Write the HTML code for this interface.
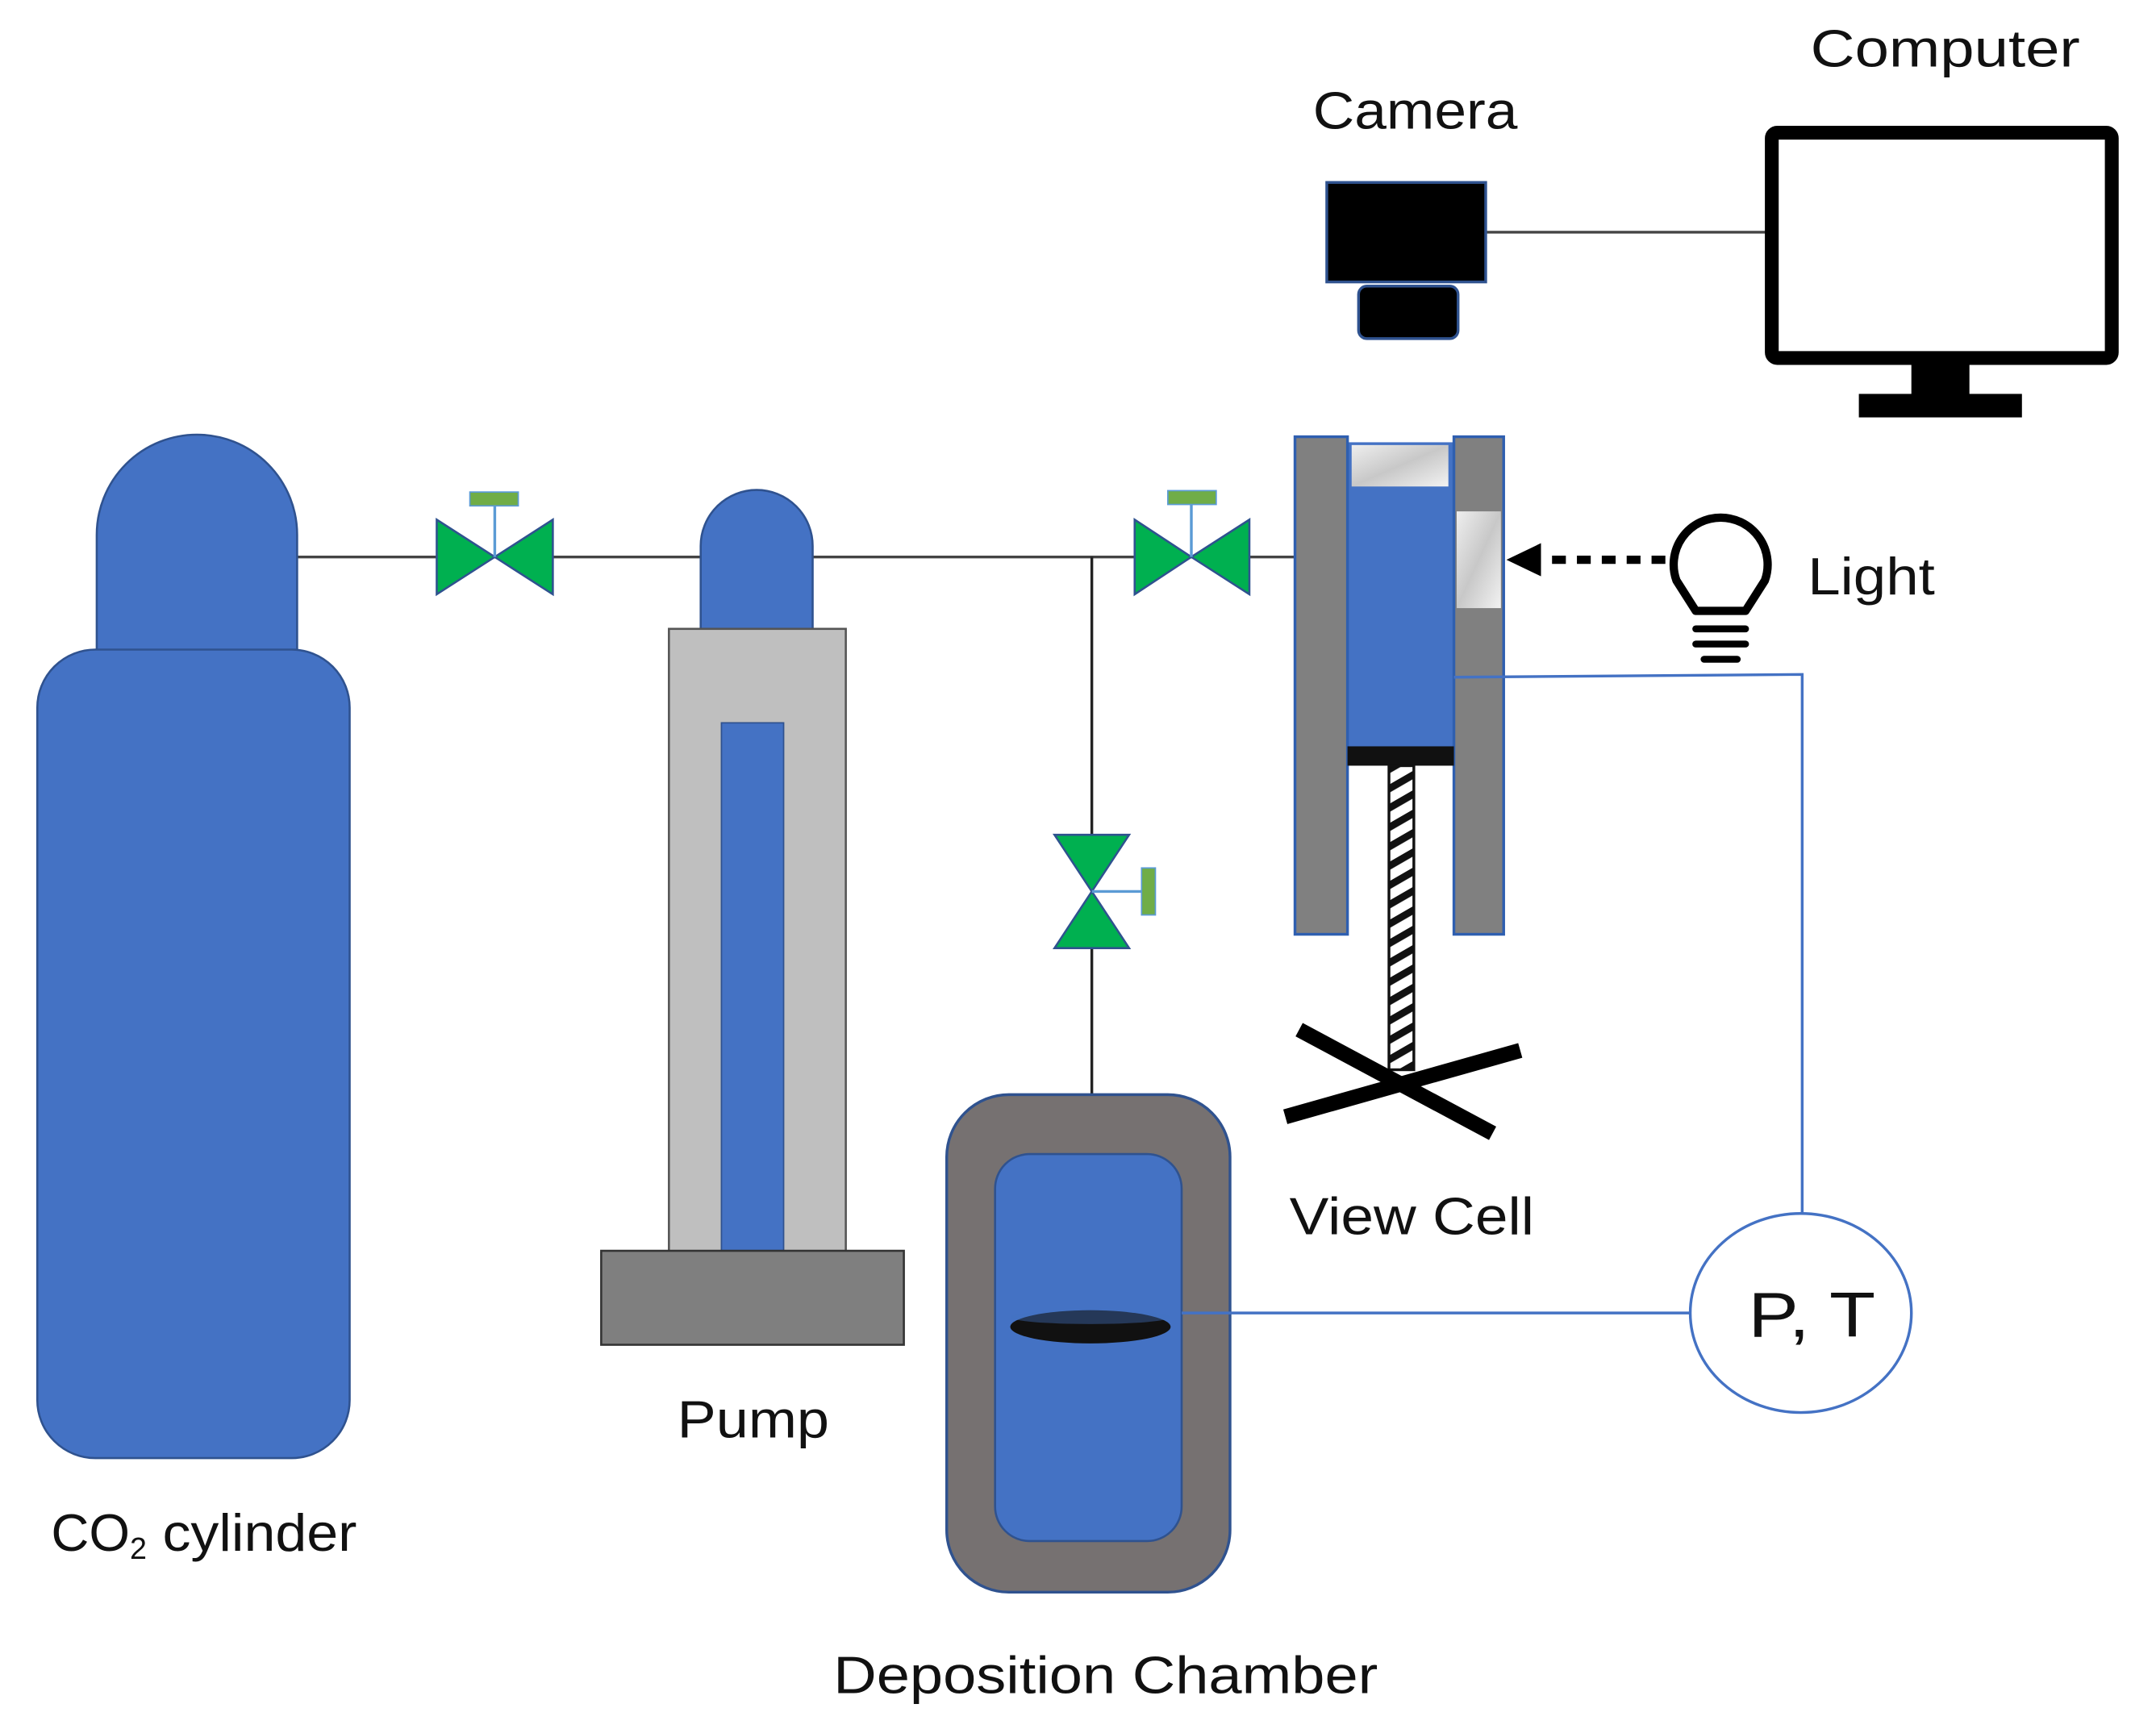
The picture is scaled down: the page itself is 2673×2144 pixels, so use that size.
<!DOCTYPE html>
<html><head><style>html,body{margin:0;padding:0;background:#fff}svg{display:block}text{font-family:"Liberation Sans",sans-serif;fill:#111}</style></head>
<body>
<svg width="2673" height="2144" viewBox="0 0 1560 1251" preserveAspectRatio="none" xmlns="http://www.w3.org/2000/svg">
<defs>
<pattern id="hatch" width="17" height="14" patternUnits="userSpaceOnUse" patternTransform="skewY(-30)">
<rect width="17" height="14" fill="#fff"/><rect width="17" height="6" fill="#111"/></pattern>
<linearGradient id="glass" x1="0" y1="0" x2="1" y2="1"><stop offset="0" stop-color="#eee"/><stop offset="0.5" stop-color="#c8c8c8"/><stop offset="1" stop-color="#f2f2f2"/></linearGradient>
</defs>
<line x1="215" y1="403" x2="940" y2="403" stroke="#444" stroke-width="2"/>
<line x1="790" y1="403" x2="790" y2="792" stroke="#222" stroke-width="2"/>
<line x1="1075" y1="168" x2="1278" y2="168" stroke="#444" stroke-width="2"/>
<path d="M70 478 V387 A72 72 0 0 1 215 387 V478 Z" fill="#4472c4" stroke="#2f528f" stroke-width="1.5"/>
<rect x="27" y="470" width="226" height="585" rx="42" fill="#4472c4" stroke="#2f528f" stroke-width="1.5"/>
<g fill="#00b050" stroke="#2f528f" stroke-width="1.5">
<polygon points="316,376 316,430 358,403"/><polygon points="400,376 400,430 358,403"/></g>
<line x1="358" y1="403" x2="358" y2="366" stroke="#5b9bd5" stroke-width="2"/>
<rect x="340" y="356" width="35" height="10" fill="#70ad47" stroke="#5b9bd5"/>
<path d="M507 455 V395 A40 40 0 0 1 588 395 V455 Z" fill="#4472c4" stroke="#2f528f" stroke-width="1.5"/>
<rect x="484" y="455" width="128" height="452" fill="#bfbfbf" stroke="#555" stroke-width="1.5"/>
<rect x="522" y="523" width="45" height="384" fill="#4472c4" stroke="#2f528f" stroke-width="1"/>
<rect x="435" y="905" width="219" height="68" fill="#7f7f7f" stroke="#333" stroke-width="1.5"/>
<g fill="#00b050" stroke="#2f528f" stroke-width="1.5">
<polygon points="821,376 821,430 862,403"/><polygon points="904,376 904,430 862,403"/></g>
<line x1="862" y1="403" x2="862" y2="364" stroke="#5b9bd5" stroke-width="2"/>
<rect x="845" y="355" width="35" height="10" fill="#70ad47" stroke="#5b9bd5"/>
<g fill="#00b050" stroke="#2f528f" stroke-width="1.5">
<polygon points="763,604 817,604 790,645"/><polygon points="763,686 817,686 790,645"/></g>
<line x1="790" y1="645" x2="826" y2="645" stroke="#5b9bd5" stroke-width="2"/>
<rect x="826" y="628" width="10" height="34" fill="#70ad47" stroke="#5b9bd5"/>
<rect x="685" y="792" width="205" height="360" rx="45" fill="#767171" stroke="#2f528f" stroke-width="2"/>
<rect x="720" y="835" width="135" height="280" rx="25" fill="#4472c4" stroke="#2f528f" stroke-width="1.5"/>
<ellipse cx="789" cy="960" rx="58" ry="12" fill="#111"/>
<ellipse cx="789" cy="953" rx="58" ry="5" fill="#4472c4" opacity="0.4"/>
<line x1="855" y1="950" x2="1224" y2="950" stroke="#4472c4" stroke-width="2"/>
<rect x="975" y="320" width="77" height="230" fill="#4472c4"/>
<rect x="978" y="322" width="70" height="30" fill="url(#glass)"/>
<rect x="937" y="316" width="38" height="360" fill="#808080" stroke="#2f5fb0" stroke-width="2"/>
<rect x="1052" y="316" width="36" height="360" fill="#808080" stroke="#2f5fb0" stroke-width="2"/>
<rect x="1054" y="370" width="32" height="70" fill="url(#glass)"/>
<rect x="975" y="540" width="77" height="14" fill="#111"/>
<rect x="1005" y="554" width="18" height="220" fill="url(#hatch)" stroke="#111" stroke-width="2"/>
<line x1="940" y1="745" x2="1080" y2="820" stroke="#000" stroke-width="11"/>
<line x1="930" y1="808" x2="1100" y2="760" stroke="#000" stroke-width="11"/>
<line x1="1205" y1="405" x2="1110" y2="405" stroke="#000" stroke-width="6" stroke-dasharray="10,8"/>
<polygon points="1090,405 1115,393 1115,417" fill="#000"/>
<path d="M1227 442 L1213 420 A34 34 0 1 1 1277 420 L1263 442 Z" fill="#fff" stroke="#000" stroke-width="6" stroke-linejoin="round"/>
<g stroke="#000" stroke-width="5" stroke-linecap="round"><line x1="1227" y1="455" x2="1263" y2="455"/><line x1="1227" y1="466" x2="1263" y2="466"/><line x1="1233" y1="477" x2="1257" y2="477"/></g>
<polyline points="1052,490 1304,488 1304,880" fill="none" stroke="#4472c4" stroke-width="2"/>
<ellipse cx="1303" cy="950" rx="80" ry="72" fill="#fff" stroke="#4472c4" stroke-width="2"/>
<text x="1265" y="967" font-size="46" textLength="92" lengthAdjust="spacingAndGlyphs">P, T</text>
<rect x="960" y="132" width="115" height="72" fill="#000" stroke="#2f528f" stroke-width="2"/>
<rect x="983" y="207" width="72" height="38" rx="6" fill="#000" stroke="#2f528f" stroke-width="2"/>
<rect x="1282" y="96" width="246" height="163" rx="4" fill="#fff" stroke="#000" stroke-width="10"/>
<rect x="1383" y="262" width="42" height="24" fill="#000"/>
<rect x="1345" y="285" width="118" height="17" fill="#000"/>
<text x="1310" y="48" font-size="38" textLength="195" lengthAdjust="spacingAndGlyphs">Computer</text>
<text x="950" y="93" font-size="38" textLength="148" lengthAdjust="spacingAndGlyphs">Camera</text>
<text x="1308" y="430" font-size="38" textLength="92" lengthAdjust="spacingAndGlyphs">Light</text>
<text x="933" y="893" font-size="38" textLength="177" lengthAdjust="spacingAndGlyphs">View Cell</text>
<text x="490" y="1040" font-size="38" textLength="110" lengthAdjust="spacingAndGlyphs">Pump</text>
<text x="37" y="1122" font-size="38">CO<tspan font-size="22" dy="6">2</tspan><tspan dy="-6" textLength="152" lengthAdjust="spacingAndGlyphs"> cylinder</tspan></text>
<text x="603" y="1225" font-size="38" textLength="394" lengthAdjust="spacingAndGlyphs">Deposition Chamber</text>
</svg>
</body></html>
